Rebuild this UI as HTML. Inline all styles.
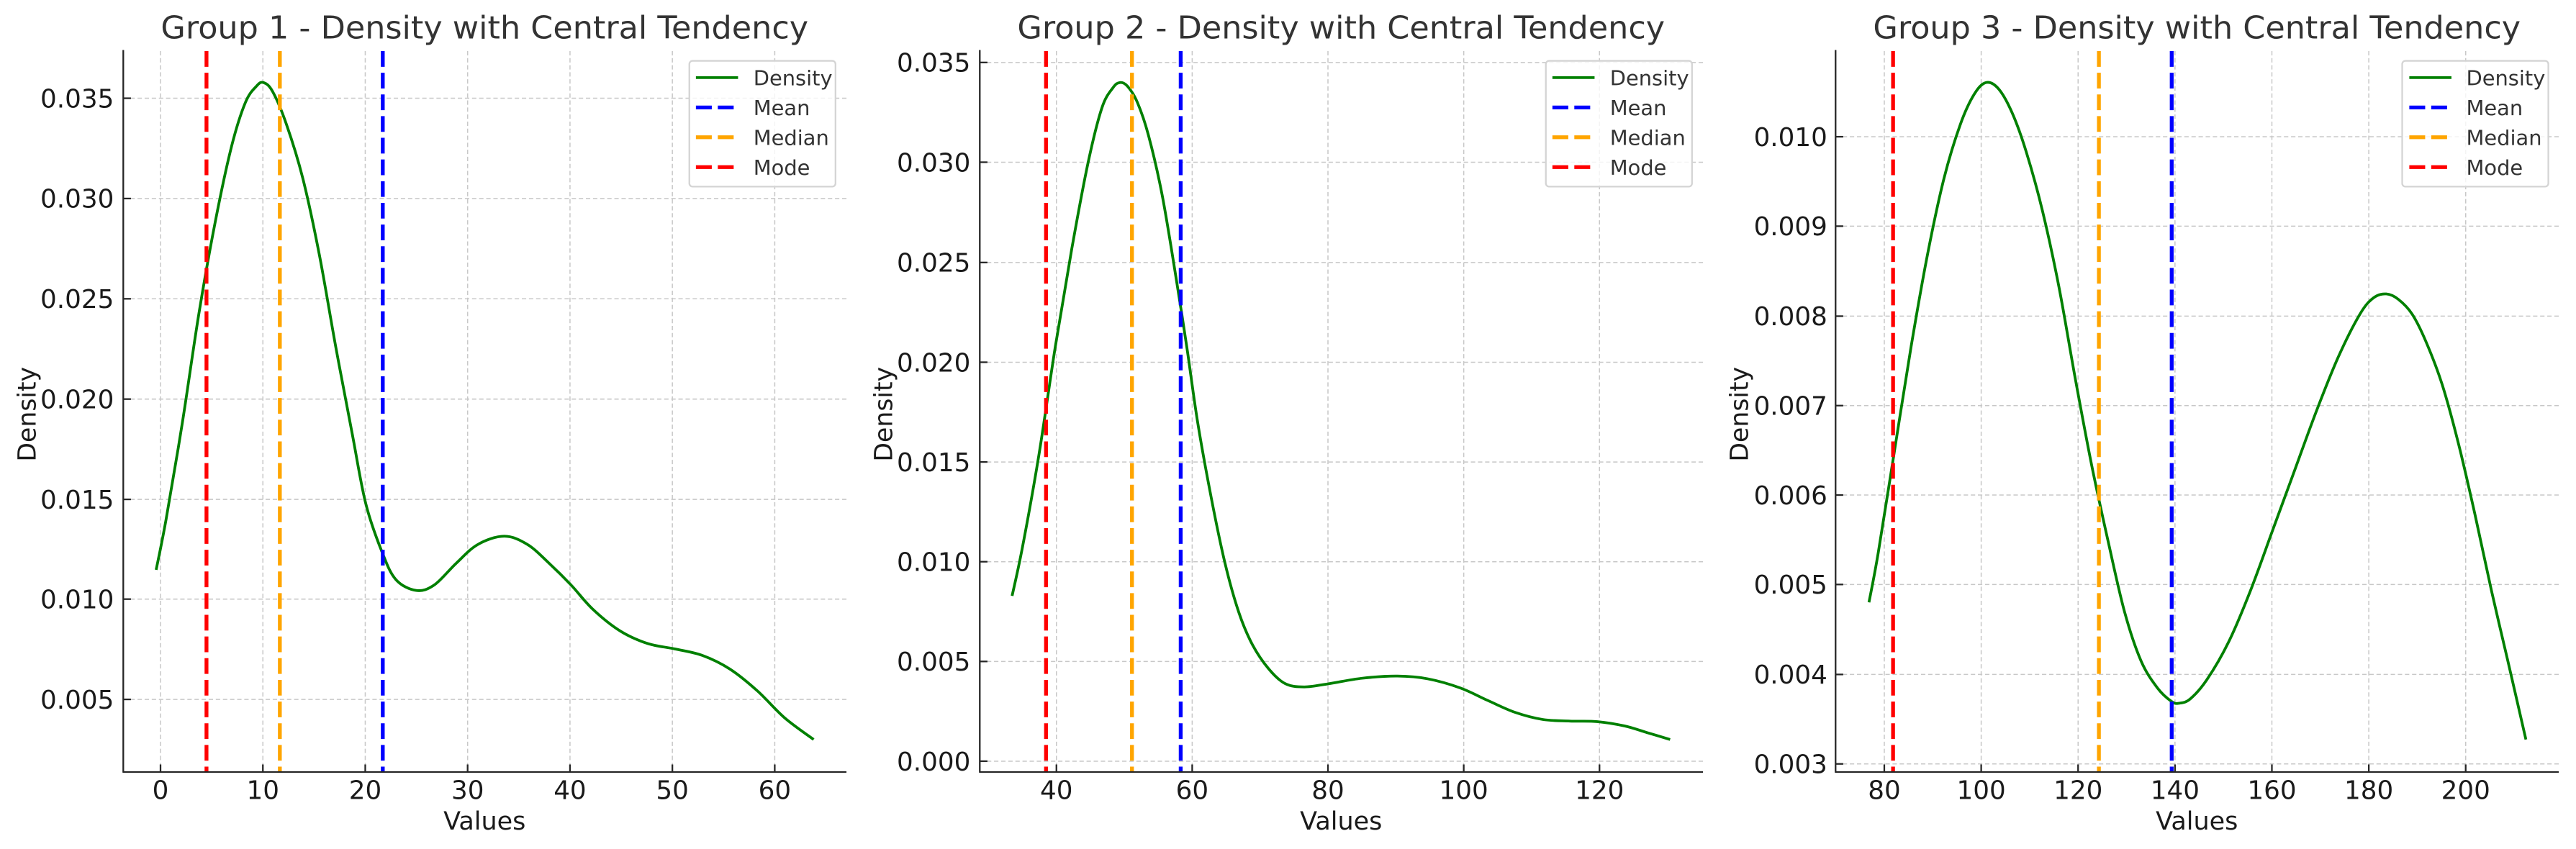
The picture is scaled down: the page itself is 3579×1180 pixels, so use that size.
<!DOCTYPE html>
<html><head><meta charset="utf-8"><style>
html,body{margin:0;padding:0;background:#fff;}
svg{display:block;}
text{font-family:"DejaVu Sans","Liberation Sans",sans-serif;}
</style></head><body>
<svg width="3579" height="1180" xmlns="http://www.w3.org/2000/svg">

<!-- Panel 1 -->
<g transform="translate(2.43,-0.57) scale(0.7606,0.7534)">
  <g stroke="#c8c8c8" stroke-width="2" stroke-dasharray="8,5">
    <line x1="222" x2="1543" y1="182" y2="182"/><line x1="222" x2="1543" y1="367" y2="367"/><line x1="222" x2="1543" y1="552" y2="552"/><line x1="222" x2="1543" y1="737" y2="737"/><line x1="222" x2="1543" y1="922" y2="922"/><line x1="222" x2="1543" y1="1106" y2="1106"/><line x1="222" x2="1543" y1="1291" y2="1291"/>
    <line y1="95" y2="1425" x1="290" x2="290"/><line y1="95" y2="1425" x1="477" x2="477"/><line y1="95" y2="1425" x1="664" x2="664"/><line y1="95" y2="1425" x1="851" x2="851"/><line y1="95" y2="1425" x1="1038" x2="1038"/><line y1="95" y2="1425" x1="1225" x2="1225"/><line y1="95" y2="1425" x1="1412" x2="1412"/>
  </g>
  <polyline class="sm" fill="none" stroke="#008000" stroke-width="5" stroke-linejoin="round" points="282,1052 300,960 330,780 360,580 390,410 420,270 445,190 465,160 478,153 495,170 520,230 550,330 580,470 610,640 640,800 665,930 695,1020 720,1070 757,1090 790,1080 830,1040 870,1005 918,990 960,1005 1000,1040 1040,1080 1080,1125 1130,1165 1180,1188 1230,1198 1280,1210 1330,1235 1380,1275 1430,1325 1483,1365"/>
  <g stroke-width="7" stroke-dasharray="29,11">
    <line x1="696" x2="696" y1="95" y2="1425" stroke="#0000ff"/>
    <line x1="508" x2="508" y1="95" y2="1425" stroke="#ffa500"/>
    <line x1="374" x2="374" y1="95" y2="1425" stroke="#ff0000"/>
  </g>
  <g stroke="#262626" stroke-width="3">
    <line x1="222" y1="93" x2="222" y2="1426"/><line x1="221" y1="1425" x2="1543" y2="1425"/>
    <line x1="222" x2="236" y1="182" y2="182"/><line x1="222" x2="236" y1="367" y2="367"/><line x1="222" x2="236" y1="552" y2="552"/><line x1="222" x2="236" y1="737" y2="737"/><line x1="222" x2="236" y1="922" y2="922"/><line x1="222" x2="236" y1="1106" y2="1106"/><line x1="222" x2="236" y1="1291" y2="1291"/>
    <line y1="1425" y2="1411" x1="290" x2="290"/><line y1="1425" y2="1411" x1="477" x2="477"/><line y1="1425" y2="1411" x1="664" x2="664"/><line y1="1425" y2="1411" x1="851" x2="851"/><line y1="1425" y2="1411" x1="1038" x2="1038"/><line y1="1425" y2="1411" x1="1225" x2="1225"/><line y1="1425" y2="1411" x1="1412" x2="1412"/>
  </g>
  <g font-size="47" fill="#1a1a1a" text-anchor="end">
    <text x="205" y="199">0.035</text><text x="205" y="384">0.030</text><text x="205" y="569">0.025</text><text x="205" y="754">0.020</text><text x="205" y="939">0.015</text><text x="205" y="1123">0.010</text><text x="205" y="1308">0.005</text>
  </g>
  <g font-size="47" fill="#1a1a1a" text-anchor="middle">
    <text x="290" y="1475">0</text><text x="477" y="1475">10</text><text x="664" y="1475">20</text><text x="851" y="1475">30</text><text x="1038" y="1475">40</text><text x="1225" y="1475">50</text><text x="1412" y="1475">60</text>
    <text x="882" y="1531" font-size="46">Values</text>
    <text x="882" y="72" font-size="58.5" fill="#333">Group 1 - Density with Central Tendency</text>
  </g>
  <text transform="translate(62,765) rotate(-90)" font-size="46" fill="#1a1a1a" text-anchor="middle">Density</text>
  <rect x="1256" y="113" width="267" height="232" rx="6" fill="#fff" fill-opacity="0.8" stroke="#d4d4d4" stroke-width="3"/>
  <line x1="1268" x2="1345" y1="144" y2="144" stroke="#008000" stroke-width="5"/>
  <line x1="1268" x2="1345" y1="199" y2="199" stroke="#0000ff" stroke-width="7" stroke-dasharray="29,11"/>
  <line x1="1268" x2="1345" y1="254" y2="254" stroke="#ffa500" stroke-width="7" stroke-dasharray="29,11"/>
  <line x1="1268" x2="1345" y1="309" y2="309" stroke="#ff0000" stroke-width="7" stroke-dasharray="29,11"/>
  <g font-size="38" fill="#333">
    <text x="1373" y="158">Density</text><text x="1373" y="213">Mean</text><text x="1373" y="268">Median</text><text x="1373" y="323">Mode</text>
  </g>
</g>

<!-- Panel 2 -->
<g transform="translate(1192.43,-0.57) scale(0.7606,0.7534)">
  <g stroke="#c8c8c8" stroke-width="2" stroke-dasharray="8,5">
    <line x1="222" x2="1543" y1="116" y2="116"/><line x1="222" x2="1543" y1="300" y2="300"/><line x1="222" x2="1543" y1="485" y2="485"/><line x1="222" x2="1543" y1="669" y2="669"/><line x1="222" x2="1543" y1="853" y2="853"/><line x1="222" x2="1543" y1="1037" y2="1037"/><line x1="222" x2="1543" y1="1221" y2="1221"/><line x1="222" x2="1543" y1="1405" y2="1405"/>
    <line y1="95" y2="1425" x1="362" x2="362"/><line y1="95" y2="1425" x1="610" x2="610"/><line y1="95" y2="1425" x1="858" x2="858"/><line y1="95" y2="1425" x1="1106" x2="1106"/><line y1="95" y2="1425" x1="1354" x2="1354"/>
  </g>
  <polyline class="sm" fill="none" stroke="#008000" stroke-width="5" stroke-linejoin="round" points="281,1100 300,1010 330,840 360,640 390,460 420,300 445,200 465,163 478,153 492,160 510,190 530,250 555,360 580,510 600,640 620,780 645,920 670,1040 695,1130 720,1190 750,1235 780,1262 815,1268 860,1262 920,1252 985,1248 1040,1253 1100,1270 1150,1293 1200,1315 1250,1328 1300,1331 1350,1332 1400,1340 1440,1352 1483,1365"/>
  <g stroke-width="7" stroke-dasharray="29,11">
    <line x1="589" x2="589" y1="95" y2="1425" stroke="#0000ff"/>
    <line x1="500" x2="500" y1="95" y2="1425" stroke="#ffa500"/>
    <line x1="343" x2="343" y1="95" y2="1425" stroke="#ff0000"/>
  </g>
  <g stroke="#262626" stroke-width="3">
    <line x1="222" y1="93" x2="222" y2="1426"/><line x1="221" y1="1425" x2="1543" y2="1425"/>
    <line x1="222" x2="236" y1="116" y2="116"/><line x1="222" x2="236" y1="300" y2="300"/><line x1="222" x2="236" y1="485" y2="485"/><line x1="222" x2="236" y1="669" y2="669"/><line x1="222" x2="236" y1="853" y2="853"/><line x1="222" x2="236" y1="1037" y2="1037"/><line x1="222" x2="236" y1="1221" y2="1221"/><line x1="222" x2="236" y1="1405" y2="1405"/>
    <line y1="1425" y2="1411" x1="362" x2="362"/><line y1="1425" y2="1411" x1="610" x2="610"/><line y1="1425" y2="1411" x1="858" x2="858"/><line y1="1425" y2="1411" x1="1106" x2="1106"/><line y1="1425" y2="1411" x1="1354" x2="1354"/>
  </g>
  <g font-size="47" fill="#1a1a1a" text-anchor="end">
    <text x="205" y="133">0.035</text><text x="205" y="317">0.030</text><text x="205" y="502">0.025</text><text x="205" y="686">0.020</text><text x="205" y="870">0.015</text><text x="205" y="1054">0.010</text><text x="205" y="1238">0.005</text><text x="205" y="1422">0.000</text>
  </g>
  <g font-size="47" fill="#1a1a1a" text-anchor="middle">
    <text x="362" y="1475">40</text><text x="610" y="1475">60</text><text x="858" y="1475">80</text><text x="1106" y="1475">100</text><text x="1354" y="1475">120</text>
    <text x="882" y="1531" font-size="46">Values</text>
    <text x="882" y="72" font-size="58.5" fill="#333">Group 2 - Density with Central Tendency</text>
  </g>
  <text transform="translate(62,765) rotate(-90)" font-size="46" fill="#1a1a1a" text-anchor="middle">Density</text>
  <rect x="1256" y="113" width="267" height="232" rx="6" fill="#fff" fill-opacity="0.8" stroke="#d4d4d4" stroke-width="3"/>
  <line x1="1268" x2="1345" y1="144" y2="144" stroke="#008000" stroke-width="5"/>
  <line x1="1268" x2="1345" y1="199" y2="199" stroke="#0000ff" stroke-width="7" stroke-dasharray="29,11"/>
  <line x1="1268" x2="1345" y1="254" y2="254" stroke="#ffa500" stroke-width="7" stroke-dasharray="29,11"/>
  <line x1="1268" x2="1345" y1="309" y2="309" stroke="#ff0000" stroke-width="7" stroke-dasharray="29,11"/>
  <g font-size="38" fill="#333">
    <text x="1373" y="158">Density</text><text x="1373" y="213">Mean</text><text x="1373" y="268">Median</text><text x="1373" y="323">Mode</text>
  </g>
</g>

<!-- Panel 3 -->
<g transform="translate(2381.43,-0.57) scale(0.7606,0.7534)">
  <g stroke="#c8c8c8" stroke-width="2" stroke-dasharray="8,5">
    <line x1="222" x2="1543" y1="253" y2="253"/><line x1="222" x2="1543" y1="418" y2="418"/><line x1="222" x2="1543" y1="584" y2="584"/><line x1="222" x2="1543" y1="749" y2="749"/><line x1="222" x2="1543" y1="914" y2="914"/><line x1="222" x2="1543" y1="1079" y2="1079"/><line x1="222" x2="1543" y1="1245" y2="1245"/><line x1="222" x2="1543" y1="1410" y2="1410"/>
    <line y1="95" y2="1425" x1="311" x2="311"/><line y1="95" y2="1425" x1="488" x2="488"/><line y1="95" y2="1425" x1="665" x2="665"/><line y1="95" y2="1425" x1="842" x2="842"/><line y1="95" y2="1425" x1="1019" x2="1019"/><line y1="95" y2="1425" x1="1196" x2="1196"/><line y1="95" y2="1425" x1="1373" x2="1373"/>
  </g>
  <polyline class="sm" fill="none" stroke="#008000" stroke-width="5" stroke-linejoin="round" points="283,1112 300,1020 330,830 360,640 390,470 420,330 450,230 475,175 497,153 520,165 545,210 570,280 600,390 630,530 660,700 690,860 720,1000 750,1130 780,1220 810,1270 836,1295 850,1298 870,1290 900,1255 940,1185 980,1090 1020,980 1060,870 1100,760 1140,660 1180,580 1205,550 1228,543 1250,553 1275,580 1300,630 1330,710 1360,820 1390,950 1420,1090 1450,1220 1483,1365"/>
  <g stroke-width="7" stroke-dasharray="29,11">
    <line x1="836" x2="836" y1="95" y2="1425" stroke="#0000ff"/>
    <line x1="703" x2="703" y1="95" y2="1425" stroke="#ffa500"/>
    <line x1="327" x2="327" y1="95" y2="1425" stroke="#ff0000"/>
  </g>
  <g stroke="#262626" stroke-width="3">
    <line x1="222" y1="93" x2="222" y2="1426"/><line x1="221" y1="1425" x2="1543" y2="1425"/>
    <line x1="222" x2="236" y1="253" y2="253"/><line x1="222" x2="236" y1="418" y2="418"/><line x1="222" x2="236" y1="584" y2="584"/><line x1="222" x2="236" y1="749" y2="749"/><line x1="222" x2="236" y1="914" y2="914"/><line x1="222" x2="236" y1="1079" y2="1079"/><line x1="222" x2="236" y1="1245" y2="1245"/><line x1="222" x2="236" y1="1410" y2="1410"/>
    <line y1="1425" y2="1411" x1="311" x2="311"/><line y1="1425" y2="1411" x1="488" x2="488"/><line y1="1425" y2="1411" x1="665" x2="665"/><line y1="1425" y2="1411" x1="842" x2="842"/><line y1="1425" y2="1411" x1="1019" x2="1019"/><line y1="1425" y2="1411" x1="1196" x2="1196"/><line y1="1425" y2="1411" x1="1373" x2="1373"/>
  </g>
  <g font-size="47" fill="#1a1a1a" text-anchor="end">
    <text x="207" y="270">0.010</text><text x="207" y="435">0.009</text><text x="207" y="601">0.008</text><text x="207" y="766">0.007</text><text x="207" y="931">0.006</text><text x="207" y="1096">0.005</text><text x="207" y="1262">0.004</text><text x="207" y="1427">0.003</text>
  </g>
  <g font-size="47" fill="#1a1a1a" text-anchor="middle">
    <text x="311" y="1475">80</text><text x="488" y="1475">100</text><text x="665" y="1475">120</text><text x="842" y="1475">140</text><text x="1019" y="1475">160</text><text x="1196" y="1475">180</text><text x="1373" y="1475">200</text>
    <text x="882" y="1531" font-size="46">Values</text>
    <text x="882" y="72" font-size="58.5" fill="#333">Group 3 - Density with Central Tendency</text>
  </g>
  <text transform="translate(62,765) rotate(-90)" font-size="46" fill="#1a1a1a" text-anchor="middle">Density</text>
  <rect x="1257" y="113" width="267" height="232" rx="6" fill="#fff" fill-opacity="0.8" stroke="#d4d4d4" stroke-width="3"/>
  <line x1="1270" x2="1347" y1="144" y2="144" stroke="#008000" stroke-width="5"/>
  <line x1="1270" x2="1347" y1="199" y2="199" stroke="#0000ff" stroke-width="7" stroke-dasharray="29,11"/>
  <line x1="1270" x2="1347" y1="254" y2="254" stroke="#ffa500" stroke-width="7" stroke-dasharray="29,11"/>
  <line x1="1270" x2="1347" y1="309" y2="309" stroke="#ff0000" stroke-width="7" stroke-dasharray="29,11"/>
  <g font-size="38" fill="#333">
    <text x="1374" y="158">Density</text><text x="1374" y="213">Mean</text><text x="1374" y="268">Median</text><text x="1374" y="323">Mode</text>
  </g>
</g>
</svg>
<script>
(function(){
  var NS="http://www.w3.org/2000/svg";
  var pls=document.querySelectorAll("polyline.sm");
  for(var k=0;k<pls.length;k++){
    var pl=pls[k];
    var pts=pl.getAttribute("points").trim().split(/\s+/).map(function(s){var a=s.split(",");return [+a[0],+a[1]];});
    var d="M"+pts[0][0]+","+pts[0][1];
    for(var i=0;i<pts.length-1;i++){
      var p0=pts[i>0?i-1:0],p1=pts[i],p2=pts[i+1],p3=pts[i+2<pts.length?i+2:i+1];
      var c1x=p1[0]+(p2[0]-p0[0])/6,c1y=p1[1]+(p2[1]-p0[1])/6;
      var c2x=p2[0]-(p3[0]-p1[0])/6,c2y=p2[1]-(p3[1]-p1[1])/6;
      d+=" C"+c1x.toFixed(1)+","+c1y.toFixed(1)+" "+c2x.toFixed(1)+","+c2y.toFixed(1)+" "+p2[0]+","+p2[1];
    }
    var p=document.createElementNS(NS,"path");
    p.setAttribute("d",d);p.setAttribute("fill","none");p.setAttribute("stroke","#008000");
    p.setAttribute("stroke-width","5");p.setAttribute("stroke-linejoin","round");
    pl.parentNode.replaceChild(p,pl);
  }
})();
</script>
</body></html>
